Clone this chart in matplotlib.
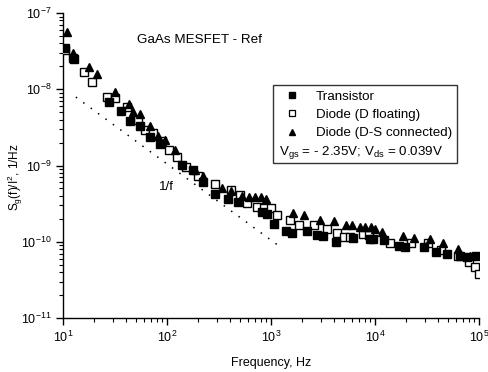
import matplotlib
matplotlib.use("Agg")
import matplotlib.pyplot as plt
from matplotlib.lines import Line2D
import numpy as np

plt.rcParams['font.family'] = ['Liberation Sans', 'DejaVu Sans']
plt.rcParams['mathtext.default'] = 'regular'

# Transistor (filled squares)
tr_f = [10.45, 12.8, 27.7, 36.1, 44.1, 55.0, 68.6, 85.6, 139, 178, 222, 289, 386, 482,
        819, 915, 1069, 1393, 1592, 2220, 2770, 3162, 4217, 6143, 8950, 9570, 12200,
        17030, 19430, 29580, 38600, 49200, 65600, 76700, 93600]
tr_s = [3.46e-8, 2.48e-8, 6.75e-9, 5.18e-9, 3.83e-9, 3.26e-9, 2.36e-9, 1.92e-9, 1.03e-9,
        8.6e-10, 6.02e-10, 4.24e-10, 3.65e-10, 3.29e-10, 2.43e-10, 2.31e-10, 1.71e-10,
        1.40e-10, 1.29e-10, 1.37e-10, 1.24e-10, 1.19e-10, 1.0e-10, 1.12e-10, 1.09e-10,
        1.09e-10, 1.05e-10, 8.86e-11, 8.41e-11, 8.41e-11, 7.4e-11, 6.9e-11, 6.55e-11,
        6.35e-11, 6.55e-11]

# Diode (D floating) (open squares)
df_f = [10.5, 12.5, 16.1, 19.1, 26.3, 31.3, 41.0, 52.4, 61.4, 73.3, 89.0, 104, 124, 154,
        199, 288, 415, 504, 592, 738, 857, 993, 1135, 1524, 1866, 2600, 3420, 4285, 4980,
        5755, 7720, 8750, 13900, 22000, 32550, 43150, 63200, 80200, 90600, 98900]
df_s = [3.26e-8, 2.59e-8, 1.66e-8, 1.25e-8, 7.96e-9, 7.78e-9, 5.85e-9, 3.91e-9, 2.89e-9,
        2.64e-9, 2.07e-9, 1.61e-9, 1.31e-9, 9.7e-10, 7.38e-10, 5.79e-10, 4.73e-10,
        4.15e-10, 3.23e-10, 2.89e-10, 2.74e-10, 2.78e-10, 2.26e-10, 1.93e-10, 1.66e-10,
        1.66e-10, 1.48e-10, 1.30e-10, 1.16e-10, 1.16e-10, 1.26e-10, 1.24e-10, 9.5e-11,
        9.5e-11, 9.5e-11, 7.85e-11, 6.55e-11, 5.46e-11, 4.73e-11, 3.83e-11]

# Diode (D-S connected) (filled triangles)
ds_f = [10.9, 12.4, 17.9, 21.1, 31.6, 42.8, 47.1, 55.0, 69.3, 81.8, 95.1, 120, 186, 223,
        338, 410, 522, 618, 701, 801, 889, 1637, 2085, 2958, 4055, 5260, 6040, 7130, 8020,
        9120, 10000, 11800, 18400, 23900, 33800, 44800, 63200, 81800]
ds_s = [5.68e-8, 3.0e-8, 1.96e-8, 1.57e-8, 9.2e-9, 6.49e-9, 5.02e-9, 4.79e-9, 3.26e-9,
        2.44e-9, 2.15e-9, 1.61e-9, 8.77e-10, 7.21e-10, 5.09e-10, 4.69e-10, 4.03e-10,
        3.83e-10, 3.83e-10, 3.83e-10, 3.65e-10, 2.41e-10, 2.25e-10, 1.93e-10, 1.85e-10,
        1.66e-10, 1.66e-10, 1.56e-10, 1.56e-10, 1.54e-10, 1.46e-10, 1.36e-10, 1.20e-10,
        1.13e-10, 1.09e-10, 9.7e-11, 8.15e-11, 6.55e-11]

# 1/f reference line
ref_f = [13.3, 1300]
ref_k = 1.05e-7

labels = ['Transistor', 'Diode (D floating)', 'Diode (D-S connected)']
bias_text = r'V$_{gs}$ = - 2.35V; V$_{ds}$ = 0.039V'

fig = plt.figure(figsize=(4.89, 3.72), dpi=100)
ax = fig.add_axes([0.1288, 0.1452, 0.8508, 0.8198])

ax.plot(df_f, df_s, linestyle='none', marker='s', markersize=5.4, markerfacecolor='white',
        markeredgecolor='black', markeredgewidth=1.0, zorder=3)
ax.plot(tr_f, tr_s, linestyle='none', marker='s', markersize=5.4, color='black', zorder=3)
ax.plot(ds_f, ds_s, linestyle='none', marker='^', markersize=6.4, color='black', zorder=4)

rf = np.array(ref_f)
ax.plot(rf, ref_k / rf, linestyle=(0, (1, 5)), color='black', linewidth=1.1)

ax.set_xscale('log')
ax.set_yscale('log')
ax.set_xlim(10, 1e5)
ax.set_ylim(1e-11, 1e-7)

for s in ['top', 'right']:
    ax.spines[s].set_visible(False)
for s in ['left', 'bottom']:
    ax.spines[s].set_linewidth(1.0)

ax.tick_params(which='major', direction='out', length=5, width=1.0, labelsize=9)
ax.tick_params(which='minor', direction='out', length=3, width=0.8)
ax.set_xticks([1e1, 1e2, 1e3, 1e4, 1e5])
ax.set_yticks([1e-11, 1e-10, 1e-9, 1e-8, 1e-7])

ax.set_xlabel('Frequency, Hz', fontsize=9)
ax.xaxis.set_label_coords(0.5, -0.128)
ax.set_ylabel(r'S$_g$(f)/I$^2$, 1/Hz', fontsize=8.5)
ax.yaxis.set_label_coords(-0.091, 0.462)

ax.text(0.178, 0.912, 'GaAs MESFET - Ref', transform=ax.transAxes, fontsize=9.7,
        va='center', ha='left')
ax.text(99, 5.2e-10, '1/f', fontsize=9.6, ha='center', va='center')

handles = [Line2D([], [], linestyle='none', marker='s', markersize=4, color='black'),
           Line2D([], [], linestyle='none', marker='s', markersize=4, markerfacecolor='white',
                  markeredgecolor='black', markeredgewidth=0.9),
           Line2D([], [], linestyle='none', marker='^', markersize=5, color='black'),
           Line2D([], [], linestyle='none', marker='none')]
leg = ax.legend(handles, labels + [' '], loc='upper left', bbox_to_anchor=(0.505, 0.764),
                fontsize=9.6, frameon=True, fancybox=False, edgecolor='black',
                borderaxespad=0, borderpad=0.4, labelspacing=0.45, handletextpad=0.8,
                handlelength=2.0)
leg.get_frame().set_linewidth(1.0)
ax.text(0.519, 0.544, bias_text, transform=ax.transAxes, fontsize=9.6, va='center', ha='left',
        zorder=10)

fig.savefig('out.png', dpi=100)
